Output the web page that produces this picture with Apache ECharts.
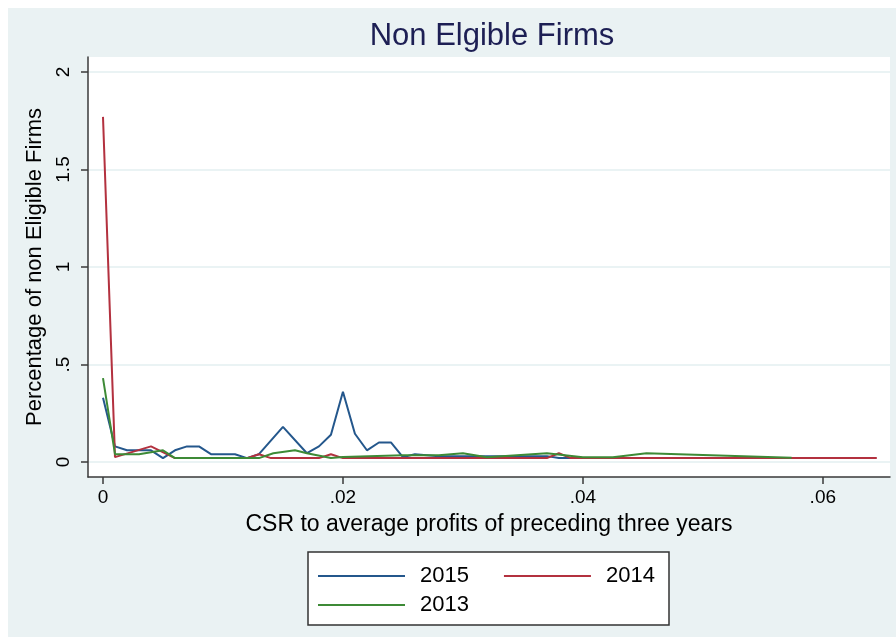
<!DOCTYPE html>
<html>
<head>
<meta charset="utf-8">
<script src="https://cdn.jsdelivr.net/npm/echarts@6/dist/echarts.min.js"></script>
<style>
  html, body { margin: 0; padding: 0; background: #ffffff; }
  #chart1 { width: 896px; height: 637px; }
</style>
</head>
<body>
<div id="chart1"></div>
<script>
// 数据: 各年份的 x (CSR/利润) 和 y (百分比)
var x2015 = [0, 0.001, 0.002, 0.004, 0.005, 0.006, 0.007, 0.008, 0.009, 0.011, 0.012, 0.013, 0.015, 0.017, 0.018, 0.019, 0.020, 0.021, 0.022, 0.023, 0.024, 0.025, 0.026, 0.028, 0.037, 0.038, 0.047];
var y2015 = [0.33, 0.08, 0.06, 0.06, 0.02, 0.06, 0.08, 0.08, 0.04, 0.04, 0.02, 0.04, 0.18, 0.045, 0.08, 0.14, 0.36, 0.145, 0.06, 0.10, 0.10, 0.025, 0.04, 0.03, 0.03, 0.02, 0.02];

var x2014 = [0, 0.001, 0.004, 0.006, 0.012, 0.013, 0.014, 0.018, 0.019, 0.020, 0.037, 0.038, 0.039, 0.0645];
var y2014 = [1.77, 0.025, 0.08, 0.02, 0.02, 0.04, 0.02, 0.02, 0.04, 0.02, 0.02, 0.045, 0.02, 0.02];

var x2013 = [0, 0.001, 0.003, 0.005, 0.006, 0.013, 0.0142, 0.016, 0.017, 0.019, 0.020, 0.025, 0.028, 0.030, 0.032, 0.037, 0.040, 0.0425, 0.0453, 0.0574];
var y2013 = [0.43, 0.04, 0.04, 0.06, 0.02, 0.02, 0.045, 0.06, 0.045, 0.02, 0.025, 0.035, 0.035, 0.045, 0.024, 0.045, 0.024, 0.024, 0.045, 0.022];

var xTicks = [0, 0.02, 0.04, 0.06];
var yTicks = [0, 0.5, 1, 1.5, 2];

function zip(xs, ys) {
    return xs.map(function (v, i) { return [v, ys[i]]; });
}
// Stata 风格: 去掉前导 0
function stataLabel(v) {
    var s = String(+v.toFixed(4));
    return s.indexOf('0.') === 0 ? s.slice(1) : s;
}

var chart1 = echarts.init(document.getElementById("chart1"));
var font = "Liberation Sans";
var axisColor = '#3a3a3a';

var option = {
    backgroundColor: '#ffffff',
    animation: false,
    textStyle: { fontFamily: font },
    graphic: [
        { type: 'rect', z: -10, shape: { x: 8, y: 8, width: 888, height: 629 }, style: { fill: '#eaf2f3' } },
        { type: 'rect', z: 10, shape: { x: 308, y: 552, width: 361, height: 73 }, style: { fill: '#ffffff', stroke: '#333333', lineWidth: 1.5 } }
    ],
    title: {
        text: "Non Elgible Firms",
        left: 487,
        textAlign: 'center',
        top: 16,
        textStyle: { fontFamily: font, fontSize: 31, fontWeight: 'normal', color: '#1d1f54' }
    },
    legend: [
        {
            data: ['2015', '2014'],
            left: 318, top: 565, padding: 0, z: 20,
            icon: 'rect', itemWidth: 87, itemHeight: 2, itemGap: 35,
            textStyle: { fontFamily: font, fontSize: 22, color: '#000', padding: [0, 0, 0, 10] }
        },
        {
            data: ['2013'],
            left: 318, top: 594, padding: 0, z: 20,
            icon: 'rect', itemWidth: 87, itemHeight: 2,
            textStyle: { fontFamily: font, fontSize: 22, color: '#000', padding: [0, 0, 0, 10] }
        }
    ],
    grid: {
        left: 88, right: 6, top: 57, bottom: 160,
        show: true, backgroundColor: '#ffffff', borderWidth: 0
    },
    xAxis: {
        type: 'value',
        min: -0.00125, max: 0.0656,
        name: 'CSR to average profits of preceding three years',
        nameLocation: 'middle', nameGap: 36,
        nameTextStyle: { fontFamily: font, fontSize: 23, color: '#000' },
        axisLine: { onZero: false, lineStyle: { color: axisColor, width: 1.5 } },
        axisTick: { length: 7, customValues: xTicks, lineStyle: { color: axisColor, width: 1.5 } },
        axisLabel: { customValues: xTicks, margin: 11, fontSize: 19, color: '#000', formatter: stataLabel },
        splitLine: { show: false }
    },
    yAxis: {
        type: 'value',
        min: -0.077, max: 2.077,
        name: 'Percentage of non Eligible Firms',
        nameLocation: 'middle', nameGap: 40,
        nameTextStyle: { fontFamily: font, fontSize: 22, color: '#000' },
        axisLine: { show: true, onZero: false, lineStyle: { color: axisColor, width: 1.5 } },
        axisTick: { show: true, length: 7, customValues: yTicks, lineStyle: { color: axisColor, width: 1.5 } },
        axisLabel: { customValues: yTicks, rotate: 90, margin: 15, fontSize: 19, color: '#000', formatter: stataLabel },
        splitLine: { show: true, lineStyle: { color: '#e3eff1', width: 1.5 } }
    },
    series: [
        { name: '2015', type: 'line', symbol: 'none', data: zip(x2015, y2015), lineStyle: { color: '#24578c', width: 2 }, itemStyle: { color: '#24578c' } },
        { name: '2014', type: 'line', symbol: 'none', data: zip(x2014, y2014), lineStyle: { color: '#b3313f', width: 2 }, itemStyle: { color: '#b3313f' } },
        { name: '2013', type: 'line', symbol: 'none', data: zip(x2013, y2013), lineStyle: { color: '#3d8a36', width: 2 }, itemStyle: { color: '#3d8a36' } }
    ]
};

chart1.setOption(option);
</script>
</body>
</html>
